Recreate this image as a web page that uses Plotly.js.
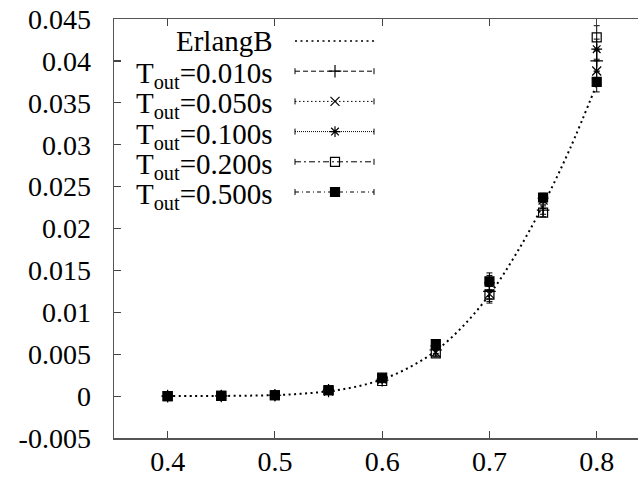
<!DOCTYPE html>
<html>
<head>
<meta charset="utf-8">
<script src="https://cdn.plot.ly/plotly-3.0.1.min.js"></script>
<style>html,body{margin:0;padding:0;background:#fff;overflow:hidden}#chart{width:638px;height:482px}</style>
</head>
<body>
<div id="chart"></div>
<script>
// ---- data ----
const erlangX = [0.40,0.425,0.45,0.475,0.50,0.525,0.55,0.575,0.60,0.625,0.65,0.675,0.70,0.725,0.75,0.775,0.80];
const erlangY = [0.0000,0.00001,0.00002,0.00005,0.00012,0.00028,0.00058,0.0011,0.0020,0.0034,0.0054,0.0083,0.0121,0.0170,0.0228,0.0295,0.0372];

const loads = [0.40,0.45,0.50,0.55,0.60,0.65,0.70,0.75,0.80];
const t010 = [0, 0.00002, 0.0001, 0.0006, 0.0019, 0.0055, 0.0125, 0.0222, 0.0400];
const t050 = [0, 0.00002, 0.0001, 0.0006, 0.0020, 0.0052, 0.0122, 0.0234, 0.0388];
const t100 = [0, 0.00002, 0.0001, 0.0008, 0.0021, 0.0060, 0.0135, 0.0236, 0.0414];
const t200 = [0, 0.00002, 0.0001, 0.0007, 0.0018, 0.0051, 0.0121, 0.0219, 0.0428];
const t500 = [0, 0.00002, 0.0001, 0.0007, 0.0022, 0.0062, 0.0137, 0.0237, 0.0375];
const e010 = [0, 0, 0.00002, 0.0001, 0.0002, 0.0004, 0.0009, 0.0005, 0.0012];
const e050 = [0, 0, 0.00002, 0.0001, 0.0002, 0.0004, 0.0009, 0.0005, 0.0012];
const e100 = [0, 0, 0.00002, 0.0001, 0.0002, 0.0004, 0.0009, 0.0005, 0.0012];
const e200 = [0, 0, 0.00002, 0.0001, 0.0002, 0.0004, 0.0010, 0.0005, 0.0014];
const e500 = [0, 0, 0.00002, 0.0001, 0.0002, 0.0004, 0.0010, 0.0005, 0.0012];

const seriesNames = ["ErlangB","T<sub>out</sub>=0.010s","T<sub>out</sub>=0.050s","T<sub>out</sub>=0.100s","T<sub>out</sub>=0.200s","T<sub>out</sub>=0.500s"];

const xTickVals = [0.4,0.5,0.6,0.7,0.8];
const xTickText = ["0.4","0.5","0.6","0.7","0.8"];
const yTickVals = [-0.005,0,0.005,0.01,0.015,0.02,0.025,0.03,0.035,0.04,0.045];
const yTickText = ["-0.005","0","0.005","0.01","0.015","0.02","0.025","0.03","0.035","0.04","0.045"];

// ---- styles ----
const FONT = "Liberation Serif, DejaVu Serif, serif";
const styles = [
  {symbol: null, dash: "2px,3.5px"},
  {symbol: "cross-thin-open", dash: "5px,3px"},
  {symbol: "x-thin-open", dash: "1.5px,2.5px"},
  {symbol: "asterisk-open", dash: "1px,1px"},
  {symbol: "square-open", dash: "6px,3px,2px,3px"},
  {symbol: "square", dash: "4px,3px,1px,3px"}
];
const ys = [t010,t050,t100,t200,t500];
const es = [e010,e050,e100,e200,e500];

const traces = [];
traces.push({x: erlangX, y: erlangY, mode: "lines", line: {color: "#000", width: 2, dash: styles[0].dash, shape: "spline"}, showlegend: false, hoverinfo: "skip"});
ys.forEach((y, i) => {
  const st = styles[i+1];
  traces.push({
    x: loads, y: y, mode: "markers", showlegend: false,
    marker: {symbol: st.symbol, size: 9, color: "#000", line: {color: "#000", width: 1.2}},
    error_y: {type: "data", array: es[i], visible: true, color: "#000", thickness: 1, width: 3}
  });
});

// ---- custom gnuplot-style legend (layout decorations) ----
const plotL = 114, plotR = 638, plotT = 19, plotB = 438;
const pw = plotR - plotL, ph = plotB - plotT;
const px = v => (v - plotL) / pw;
const py = v => (plotB - v) / ph;
const legTextRight = 275, legLineX0 = 295, legLineX1 = 374, legMarkX = 335;
const legRow0 = 41, legRowStep = 30.2;
const shapes = [], annotations = [];
seriesNames.forEach((name, i) => {
  const rowY = legRow0 + i * legRowStep;
  annotations.push({xref: "paper", yref: "paper", x: px(legTextRight), y: py(rowY), xanchor: "right", yanchor: "middle",
    text: name, showarrow: false, font: {family: FONT, size: 29, color: "#000"}, yshift: i === 0 ? 0 : -4});
  shapes.push({type: "line", xref: "paper", yref: "paper", x0: px(legLineX0), x1: px(legLineX1), y0: py(rowY), y1: py(rowY),
    line: {color: "#000", width: i === 0 ? 1.6 : 1, dash: styles[i].dash}});
  if (i > 0) {
    [legLineX0, legLineX1].forEach(cx => shapes.push({type: "line", xref: "paper", yref: "paper", x0: px(cx), x1: px(cx),
      y0: py(rowY - 3), y1: py(rowY + 3), line: {color: "#000", width: 1}}));
  }
});
ys.forEach((y, i) => {
  const rowY = legRow0 + (i+1) * legRowStep;
  traces.push({x: [px(legMarkX)], y: [py(rowY)], xaxis: "x2", yaxis: "y2", mode: "markers", showlegend: false, hoverinfo: "skip",
    marker: {symbol: styles[i+1].symbol, size: 9, color: "#000", line: {color: "#000", width: 1.2}}});
});

const axisCommon = {showgrid: false, zeroline: false, showline: true, linecolor: "#555", linewidth: 1.5,
  ticks: "inside", ticklen: 7, tickcolor: "#444", tickwidth: 1.2,
  tickfont: {family: FONT, size: 28, color: "#000"}};

const layout = {
  width: 638, height: 482,
  font: {family: FONT, size: 28, color: "#000"},
  margin: {l: plotL, r: 638 - plotR, t: plotT, b: 482 - plotB},
  paper_bgcolor: "#fff", plot_bgcolor: "#fff",
  showlegend: false,
  xaxis: Object.assign({}, axisCommon, {range: [0.35, 0.8385], tickmode: "array", tickvals: xTickVals, ticktext: xTickText, mirror: "ticks", ticklabelstandoff: -2}),
  yaxis: Object.assign({}, axisCommon, {range: [-0.005, 0.045], tickmode: "array", tickvals: yTickVals, ticktext: yTickText, mirror: false, ticklabelstandoff: 16}),
  xaxis2: {overlaying: "x", range: [0, 1], visible: false, fixedrange: true},
  yaxis2: {overlaying: "y", range: [0, 1], visible: false, fixedrange: true},
  shapes: shapes,
  annotations: annotations
};

Plotly.newPlot("chart", traces, layout, {staticPlot: true});
</script>
</body>
</html>
